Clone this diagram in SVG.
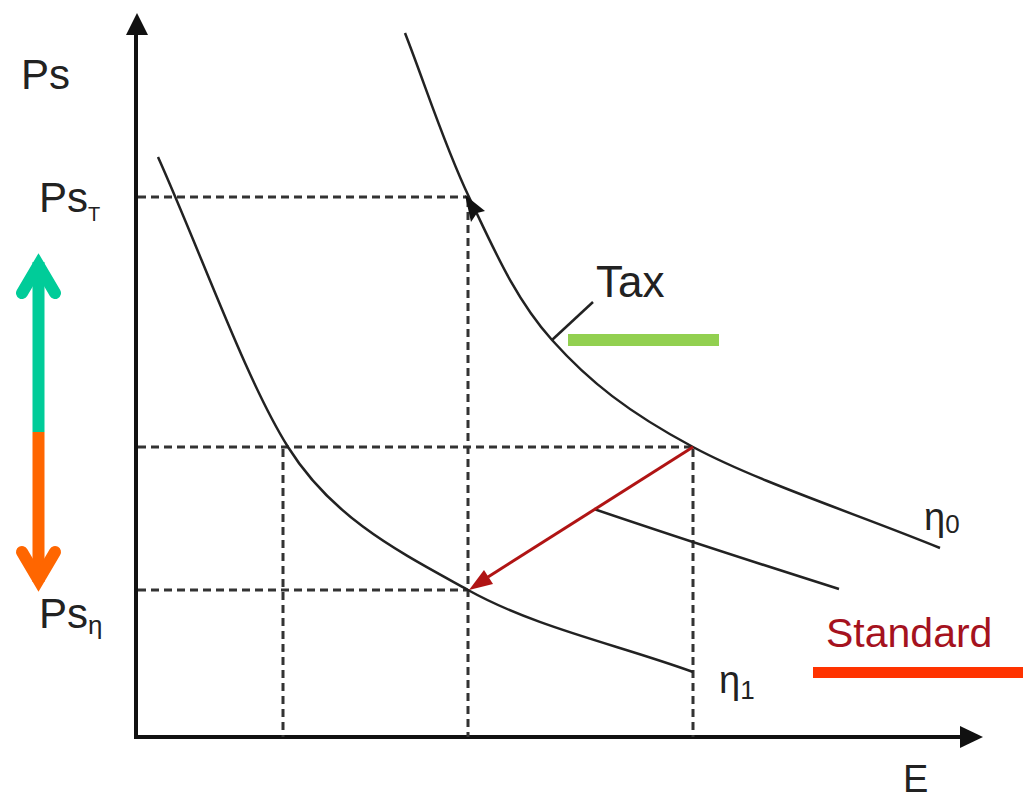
<svg xmlns="http://www.w3.org/2000/svg" width="1023" height="799" viewBox="0 0 1023 799">
<style>
.t{font-family:"Liberation Sans",Arial,sans-serif;fill:#222}
.ax{stroke:#111;stroke-width:4;fill:none}
.dash{stroke:#333;stroke-width:3;stroke-dasharray:8 5;fill:none}
.curve{stroke:#222;stroke-width:2.5;fill:none}
</style>
<rect width="1023" height="799" fill="#fff"/>
<g id="axes">
<line class="ax" x1="136" y1="737" x2="136" y2="30"/>
<polygon points="137,13 126,35 148,35" fill="#111"/>
<line class="ax" x1="134" y1="737" x2="965" y2="737"/>
<polygon points="983,737 960,726 960,748" fill="#111"/>
</g>
<g id="guides">
<line class="dash" x1="138" y1="197" x2="468" y2="197"/>
<line class="dash" x1="468" y1="199" x2="468" y2="737"/>
<line class="dash" x1="138" y1="447" x2="693" y2="447"/>
<line class="dash" x1="693" y1="449" x2="693" y2="737"/>
<line class="dash" x1="283" y1="449" x2="283" y2="737"/>
<line class="dash" x1="138" y1="590" x2="468" y2="590"/>
</g>
<g id="eta0">
<path class="curve" d="M405,33 C426.3,87.7 444.5,145.8 469,197 C493.5,248.2 514.7,298.3 552,340 C589.3,381.7 628.3,412.3 693,447 C757.7,481.7 857.7,514.3 940,548"/>
<polygon points="465,195 485,211 477,213 471,222" fill="#111"/>
</g>
<g id="eta1">
<path class="curve" d="M158,157 C201.3,253.7 246,380 288,447 C333,519 400.5,552.5 468,590 C535.5,627.5 618,644.7 693,672"/>
</g>
<g id="standard-curve">
<path class="curve" d="M594,509 Q700,545 839,589"/>
</g>
<g id="connectors">
<line x1="693" y1="447" x2="488" y2="577" stroke="#b01414" stroke-width="3"/>
<polygon points="469,590 493,584 484,570" fill="#b01414"/>
<line x1="552" y1="340" x2="593" y2="302" stroke="#222" stroke-width="2.5"/>
</g>
<g id="labels">
<text class="t" x="21" y="89" font-size="42">Ps</text>
<text class="t" x="39" y="212" font-size="42">Ps<tspan font-size="20" dy="9">T</tspan></text>
<text class="t" x="39" y="628" font-size="42">Ps<tspan font-size="26" dy="6">η</tspan></text>
<text class="t" x="596" y="297" font-size="44">Tax</text>
<text class="t" x="924" y="530" font-size="38">η<tspan font-size="26" dy="3">0</tspan></text>
<text class="t" x="719" y="693" font-size="38">η<tspan font-size="26" dy="6">1</tspan></text>
<text class="t" x="903" y="792" font-size="38">E</text>
<text x="826" y="647" font-size="41" font-family="Liberation Sans,Arial,sans-serif" fill="#a5121e">Standard</text>
</g>
<g id="legend">
<rect x="568" y="334" width="151" height="12" fill="#92d050"/>
<rect x="813" y="667" width="210" height="11" fill="#ff3300"/>
</g>
<g id="double-arrow" fill="none" stroke-width="12" stroke-linecap="round">
<line x1="38.5" y1="262" x2="38.5" y2="432" stroke="#00cc99" stroke-linecap="butt"/>
<polyline points="22,293 38.5,265 55,293" stroke="#00cc99" stroke-linejoin="miter"/>
<line x1="38.5" y1="432" x2="38.5" y2="582" stroke="#ff6600" stroke-linecap="butt"/>
<polyline points="22,552 38.5,580 55,552" stroke="#ff6600" stroke-linejoin="miter"/>
</g>
</svg>
